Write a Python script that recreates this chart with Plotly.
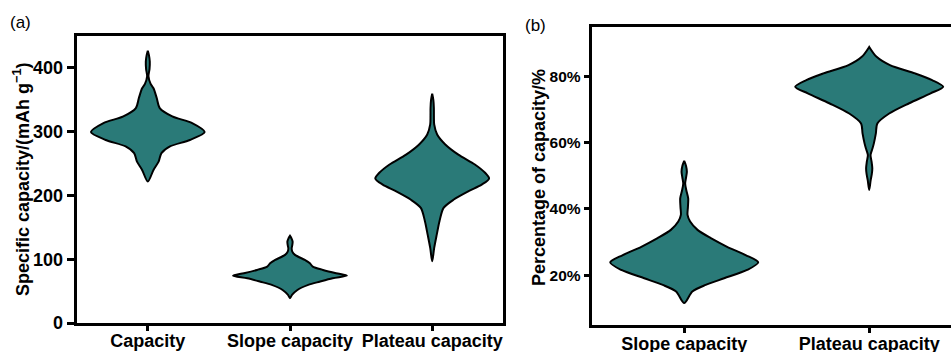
import plotly.graph_objects as go

# ---------------- data ----------------
cats_a = ["Capacity", "Slope capacity", "Plateau capacity"]
cats_b = ["Slope capacity", "Plateau capacity"]

yticks_a = [0, 100, 200, 300, 400]
yticks_b = [20, 40, 60, 80]

# violin outlines: value levels and relative half-width (density) at each level
cap_y = [221.8, 240, 253, 266.4, 276.8, 287, 299.4, 313.5, 324, 337, 352.7, 368, 375, 386.7, 398, 410, 420, 427]
cap_w = [0, 0.1, 0.19, 0.24, 0.39, 0.74, 1.0, 0.78, 0.43, 0.21, 0.157, 0.1, 0.05, 0.012, 0.03, 0.035, 0.02, 0]

slope_a_y = [38.8, 44, 51.8, 59.7, 64.8, 70.2, 74.3, 78, 83.2, 88.4, 93.7, 99, 106.8, 112, 117.2, 122, 127.6, 132, 136.6]
slope_a_w = [0, 0.035, 0.13, 0.32, 0.52, 0.75, 1.0, 0.81, 0.58, 0.4, 0.35, 0.26, 0.087, 0.04, 0.029, 0.04, 0.046, 0.03, 0]

plat_a_y = [96.8, 117.7, 138.6, 159.6, 180.5, 193.6, 206.7, 217, 226.5, 235.5, 248.5, 264, 280, 295.6, 311.3, 325, 337.5, 350, 359.5]
plat_a_w = [0, 0.035, 0.08, 0.128, 0.2, 0.38, 0.64, 0.87, 1.0, 0.93, 0.75, 0.46, 0.23, 0.087, 0.035, 0.03, 0.029, 0.02, 0]

slope_b_y = [11.6, 15.1, 17.1, 19.1, 21.6, 23.9, 26.1, 28.6, 31.2, 33.7, 36.2, 38.2, 40.5, 43.2, 45.5, 47.7, 49.5, 51.2, 53, 54.5]
slope_b_w = [0, 0.11, 0.29, 0.54, 0.85, 1.0, 0.83, 0.58, 0.36, 0.18, 0.08, 0.045, 0.05, 0.054, 0.03, 0.013, 0.025, 0.036, 0.025, 0]

plat_b_y = [45.7, 48.7, 50.5, 52.3, 54.3, 56.3, 58.3, 59.8, 62.8, 65.8, 68.8, 71.9, 74.9, 76.9, 78.9, 80.9, 83.4, 85.9, 88.9]
plat_b_w = [0, 0.02, 0.035, 0.042, 0.032, 0.018, 0.045, 0.063, 0.09, 0.11, 0.27, 0.54, 0.83, 1.0, 0.85, 0.62, 0.28, 0.1, 0]

violins_a = [(cap_y, cap_w), (slope_a_y, slope_a_w), (plat_a_y, plat_a_w)]
violins_b = [(slope_b_y, slope_b_w), (plat_b_y, plat_b_w)]

# ---------------- style ----------------
FILL = "#2a7a78"
HALF = 0.4
W, H = 951, 352
FONT = "Liberation Sans, Arial, sans-serif"


def outline(center, ys, ws):
    xs_r = [center + HALF * w for w in ws]
    xs_l = [center - HALF * w for w in reversed(ws)]
    return xs_r + xs_l, list(ys) + list(reversed(ys))


fig = go.Figure()
for i, (ys, ws) in enumerate(violins_a):
    xx, yy = outline(i, ys, ws)
    fig.add_trace(go.Scatter(x=xx, y=yy, mode="lines", fill="toself", fillcolor=FILL,
                             line=dict(color="black", width=2, shape="spline", smoothing=0.8),
                             xaxis="x", yaxis="y", showlegend=False, hoverinfo="skip"))
for i, (ys, ws) in enumerate(violins_b):
    xx, yy = outline(i, ys, ws)
    fig.add_trace(go.Scatter(x=xx, y=yy, mode="lines", fill="toself", fillcolor=FILL,
                             line=dict(color="black", width=2, shape="spline", smoothing=0.8),
                             xaxis="x2", yaxis="y2", showlegend=False, hoverinfo="skip"))

axis_common = dict(showline=True, linecolor="black", linewidth=3, ticks="outside",
                   tickcolor="black", tickwidth=3, showgrid=False, zeroline=False,
                   automargin=False)

fig.update_layout(
    width=W, height=H, margin=dict(l=0, r=0, t=0, b=0, autoexpand=False),
    paper_bgcolor="white", plot_bgcolor="white",
    font=dict(family=FONT, color="black"),
    xaxis=dict(domain=[76.7 / W, 503.3 / W], range=[-0.5, 2.5], anchor="y",
               tickvals=list(range(len(cats_a))), ticktext=cats_a, mirror=True, ticklen=5,
               ticklabelstandoff=-6,
               tickfont=dict(size=18, family=FONT, weight="bold"), **axis_common),
    yaxis=dict(domain=[1 - 323 / H, 1 - 36 / H], range=[0, 450], anchor="x",
               tickvals=yticks_a, mirror=True, ticklen=7,
               tickfont=dict(size=18, family=FONT, weight="bold"), **axis_common),
    xaxis2=dict(domain=[591.7 / W, 1.0], range=[-0.5, -0.5 + (W - 591.7) / 185], anchor="y2",
                tickvals=list(range(len(cats_b))), ticktext=cats_b, mirror=True, ticklen=5,
                ticklabelstandoff=-5,
                tickfont=dict(size=18, family=FONT, weight="bold"), **axis_common),
    yaxis2=dict(domain=[1 - 325 / H, 1 - 26.7 / H], range=[5, 95], anchor="x2",
                tickvals=yticks_b, ticktext=[f"{v}%" for v in yticks_b], mirror=False, ticklen=5,
                tickfont=dict(size=15.5, family=FONT, weight="bold"), **axis_common),
    annotations=[
        dict(text="(a)", x=8 / W, y=1 - 23 / H, xref="paper", yref="paper", xanchor="left",
             yanchor="middle", showarrow=False, font=dict(size=17, family=FONT)),
        dict(text="(b)", x=523 / W, y=1 - 25 / H, xref="paper", yref="paper", xanchor="left",
             yanchor="middle", showarrow=False, font=dict(size=17, family=FONT)),
        dict(text="Specific capacity/(mAh g<sup>−1</sup>)", x=21 / W, y=1 - 180 / H,
             xref="paper", yref="paper", xanchor="center", yanchor="middle", textangle=-90,
             showarrow=False, font=dict(size=18, family=FONT, weight="bold")),
        dict(text="Percentage of capacity/%", x=539 / W, y=1 - 178 / H,
             xref="paper", yref="paper", xanchor="center", yanchor="middle", textangle=-90,
             showarrow=False, font=dict(size=18, family=FONT, weight="bold")),
    ],
)

POST = (
    "document.documentElement.style.overflow='hidden';"
    "document.body.style.margin='0';"
    "document.body.style.padding='0';"
    "document.body.style.overflow='hidden';"
)

fig.write_html("out.html", config={"displayModeBar": False}, post_script=POST)
